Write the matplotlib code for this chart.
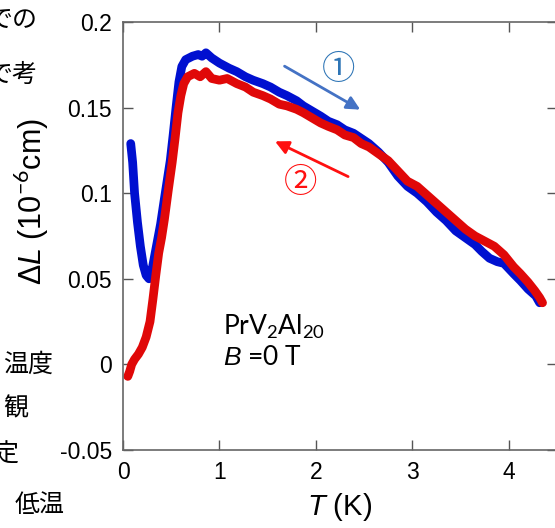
import matplotlib

matplotlib.use("Agg")
import matplotlib.pyplot as plt

# sweep 1 (blue) and sweep 2 (red)
blue_t = [0.08, 0.10, 0.12, 0.15, 0.18, 0.21, 0.24, 0.27, 0.30, 0.33, 0.36, 0.39,
          0.43, 0.46, 0.49, 0.52, 0.55, 0.58, 0.61, 0.65, 0.72, 0.78, 0.82, 0.86,
          0.92, 1.00, 1.10, 1.18, 1.27, 1.35, 1.45, 1.53, 1.62, 1.70, 1.80, 1.87,
          1.96, 2.05, 2.13, 2.22, 2.30, 2.39, 2.47, 2.55, 2.65, 2.75, 2.85, 2.95,
          3.05, 3.15, 3.25, 3.35, 3.45, 3.55, 3.65, 3.72, 3.80, 3.88, 3.95, 4.05,
          4.12, 4.20, 4.28, 4.32]
blue_dl = [0.129, 0.118, 0.100, 0.083, 0.069, 0.058, 0.052, 0.050, 0.055, 0.064, 0.073, 0.082,
           0.097, 0.108, 0.119, 0.134, 0.150, 0.165, 0.174, 0.178, 0.180, 0.181, 0.180, 0.182,
           0.179, 0.176, 0.173, 0.171, 0.168, 0.166, 0.164, 0.162, 0.159, 0.157, 0.154, 0.151,
           0.148, 0.145, 0.142, 0.140, 0.137, 0.135, 0.132, 0.129, 0.124, 0.118, 0.110, 0.104,
           0.100, 0.095, 0.089, 0.084, 0.078, 0.074, 0.070, 0.066, 0.062, 0.060, 0.059, 0.053,
           0.049, 0.044, 0.040, 0.036]

red_t = [0.05, 0.07, 0.09, 0.12, 0.16, 0.20, 0.24, 0.28, 0.31, 0.34, 0.37, 0.40,
         0.43, 0.47, 0.51, 0.54, 0.57, 0.60, 0.63, 0.67, 0.74, 0.80, 0.86, 0.92,
         1.00, 1.08, 1.18, 1.27, 1.35, 1.45, 1.53, 1.62, 1.70, 1.80, 1.87, 1.96,
         2.05, 2.13, 2.22, 2.30, 2.39, 2.47, 2.55, 2.65, 2.75, 2.85, 2.95, 3.05,
         3.15, 3.25, 3.35, 3.45, 3.55, 3.65, 3.75, 3.85, 3.95, 4.05, 4.12, 4.20,
         4.27, 4.32, 4.35]
red_dl = [-0.007, -0.004, 0.000, 0.003, 0.006, 0.010, 0.016, 0.025, 0.038, 0.052, 0.065, 0.074,
          0.085, 0.102, 0.118, 0.132, 0.147, 0.157, 0.164, 0.168, 0.170, 0.168, 0.171, 0.167,
          0.166, 0.167, 0.164, 0.162, 0.159, 0.157, 0.155, 0.152, 0.151, 0.149, 0.147, 0.144,
          0.141, 0.139, 0.137, 0.134, 0.1325, 0.129, 0.127, 0.123, 0.119, 0.113, 0.107, 0.104,
          0.099, 0.094, 0.089, 0.084, 0.079, 0.075, 0.072, 0.069, 0.064, 0.057, 0.053, 0.048,
          0.043, 0.039, 0.036]

x_ticks = [0, 1, 2, 3, 4]
y_ticks = [-0.05, 0, 0.05, 0.1, 0.15, 0.2]
y_tick_labels = ["-0.05", "0", "0.05", "0.1", "0.15", "0.2"]

plt.rcParams["font.family"] = ["Liberation Sans", "DejaVu Sans"]
plt.rcParams["mathtext.fontset"] = "custom"
plt.rcParams["mathtext.rm"] = "Lato"
plt.rcParams["mathtext.it"] = "Liberation Sans:italic"

W, H = 555, 528
fig = plt.figure(figsize=(W / 100, H / 100), dpi=100)
ax = fig.add_axes([123 / W, (H - 450) / H, (557 - 123) / W, (450 - 22) / H])

ax.plot(blue_t, blue_dl, color="#0010d0", linewidth=6.3, solid_capstyle="round",
        solid_joinstyle="round")
ax.plot(red_t, red_dl, color="#e00808", linewidth=6.3, solid_capstyle="round",
        solid_joinstyle="round")

ax.set_xlim(0, 4.5)
ax.set_ylim(-0.05, 0.2)
ax.set_xticks(x_ticks)
ax.set_yticks(y_ticks)
ax.set_yticklabels(y_tick_labels)
ax.tick_params(direction="in", length=7, width=1, color="#555555", labelsize=16.5,
               top=True, right=True, pad=8)
for sp in ax.spines.values():
    sp.set_color("#666666")
    sp.set_linewidth(1.2)

ax.set_xlabel(r"$\mathit{T}$ (K)", fontsize=21, labelpad=5)
ax.set_ylabel(r"Δ$\mathit{L}$ (10$^{-6}$cm)", fontsize=22)
ax.yaxis.set_label_coords(-0.165, 0.58)

# sweep direction arrows
ax.annotate("", xy=(2.485, 0.148), xytext=(1.65, 0.175),
            arrowprops=dict(arrowstyle="-|>", color="#4472c4", lw=2, mutation_scale=20))
ax.annotate("", xy=(1.55, 0.131), xytext=(2.36, 0.109),
            arrowprops=dict(arrowstyle="-|>", color="#ff1010", lw=2, mutation_scale=20))
ax.text(2.23, 0.172, "①", color="#2e75b6", fontsize=24, ha="center", va="center",
        family=["Noto Sans CJK JP", "DejaVu Sans"])
ax.text(1.84, 0.106, "②", color="#ff1010", fontsize=24, ha="center", va="center",
        family=["Noto Sans CJK JP", "DejaVu Sans"])

ax.text(1.04, 0.022, r"PrV$_2$Al$_{20}$", fontsize=19, family="Lato", va="center")
ax.text(1.04, 0.004, r"$\mathit{B}$ =0 T", fontsize=19, family="Lato", va="center")

# fragments of the surrounding page text
jp = ["Noto Sans CJK JP", "DejaVu Sans"]
frags = [("での", 37, 20), ("で考", 37, 75), ("温度", 53, 365), ("観", 28, 408),
         ("定", 18, 455), ("低温", 65, 505)]
for s, xr, yc in frags:
    fig.text(xr / W, 1 - yc / H, s, fontsize=18, ha="right", va="center", family=jp)

fig.savefig("out.png", dpi=100)
